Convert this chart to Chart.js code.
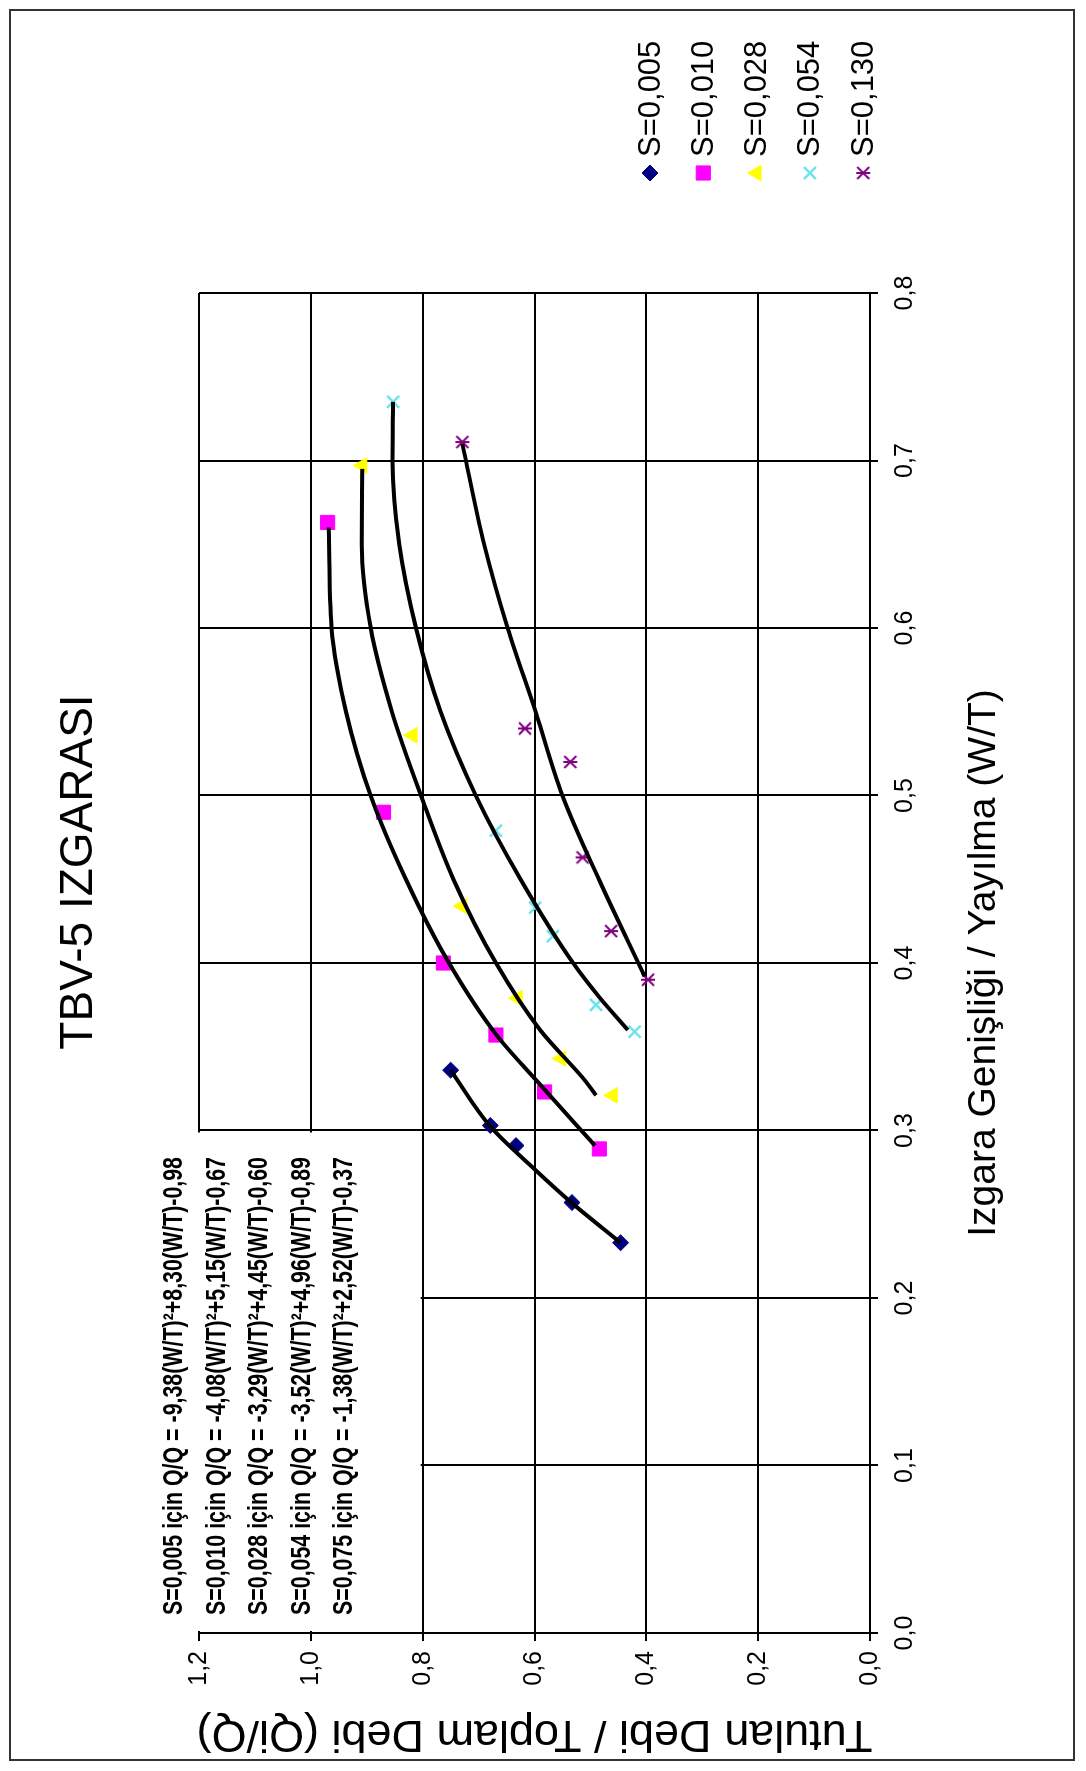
<!DOCTYPE html>
<html lang="tr">
<head>
  <meta charset="UTF-8">
  <title>TBV-5 IZGARASI</title>
  <style>
    html, body {
      margin: 0;
      padding: 0;
      background: #fff;
    }
    body {
      width: 1086px;
      height: 1771px;
      overflow: hidden;
      position: relative;
    }
    /* the chart is laid out landscape and turned a quarter turn to the left */
    .sheet {
      position: absolute;
      left: 0;
      top: 0;
      width: 1771px;
      height: 1086px;
      background: #fff;
      transform-origin: 0 0;
      transform: translateY(1771px) rotate(-90deg);
    }
    .sheet canvas {
      position: absolute;
      left: 0;
      top: 0;
    }
    .frame {
      position: absolute;
      left: 10px;
      top: 9px;
      width: 1752px;
      height: 1066px;
      box-sizing: border-box;
      border: 2px solid #333;
      pointer-events: none;
    }
  </style>
</head>
<body>
  <div class="sheet">
    <canvas id="chart" width="1771" height="1086"></canvas>
    <div class="frame"></div>
  </div>

  <script src="https://cdn.jsdelivr.net/npm/chart.js"></script>
  <script>
    // measured points: [W/T, Qi/Q]
    const s005 = [[0.233, 0.446], [0.257, 0.533], [0.291, 0.633], [0.303, 0.679], [0.336, 0.750]];
    const s010 = [[0.289, 0.484], [0.323, 0.582], [0.357, 0.669], [0.400, 0.763], [0.490, 0.870], [0.663, 0.970]];
    const s028 = [[0.321, 0.460], [0.343, 0.552], [0.379, 0.630], [0.434, 0.729], [0.536, 0.818], [0.697, 0.908]];
    const s054 = [[0.359, 0.421], [0.375, 0.490], [0.416, 0.567], [0.433, 0.599], [0.479, 0.669], [0.735, 0.853]];
    const s130 = [[0.390, 0.397], [0.419, 0.463], [0.463, 0.514], [0.520, 0.536], [0.540, 0.617], [0.711, 0.729]];

    // trend curves: [W/T, Qi/Q]
    const fit005 = [[0.233, 0.446], [0.257, 0.534], [0.276, 0.597], [0.302, 0.678], [0.336, 0.750]];
    const fit010 = [[0.291, 0.492], [0.330, 0.597], [0.357, 0.668], [0.400, 0.753], [0.450, 0.830], [0.500, 0.893],
                    [0.550, 0.937], [0.600, 0.963], [0.660, 0.968]];
    const fit028 = [[0.321, 0.490], [0.330, 0.510], [0.360, 0.590], [0.400, 0.669], [0.450, 0.745], [0.500, 0.803],
                    [0.550, 0.855], [0.600, 0.893], [0.650, 0.909], [0.695, 0.908]];
    const fit054 = [[0.360, 0.433], [0.380, 0.485], [0.400, 0.531], [0.450, 0.625], [0.500, 0.705], [0.550, 0.768],
                    [0.600, 0.812], [0.650, 0.842], [0.700, 0.854], [0.735, 0.853]];
    const fit130 = [[0.392, 0.403], [0.450, 0.485], [0.500, 0.550], [0.550, 0.598], [0.600, 0.648], [0.650, 0.690],
                    [0.710, 0.729]];

    const seriesNames = ['S=0,005', 'S=0,010', 'S=0,028', 'S=0,054', 'S=0,130'];

    const equations = [
      'S=0,005 için Q/Q = -9,38(W/T)²+8,30(W/T)-0,98',
      'S=0,010 için Q/Q = -4,08(W/T)²+5,15(W/T)-0,67',
      'S=0,028 için Q/Q = -3,29(W/T)²+4,45(W/T)-0,60',
      'S=0,054 için Q/Q = -3,52(W/T)²+4,96(W/T)-0,89',
      'S=0,075 için Q/Q = -1,38(W/T)²+2,52(W/T)-0,37'
    ];

    const xTitle = 'Izgara Genişliği / Yayılma (W/T)';
    const yTitle = 'Tutulan Debi / Toplam Debi (Qi/Q)';
    const chartTitle = 'TBV-5 IZGARASI';

    const FONT = "'Liberation Sans', Arial, sans-serif";

    // little asterisk (x with an upright bar) for the last series
    function makeStar(color) {
      const c = document.createElement('canvas');
      c.width = 18;
      c.height = 18;
      const g = c.getContext('2d');
      g.strokeStyle = color;
      g.lineWidth = 2;
      g.beginPath();
      g.moveTo(3, 3); g.lineTo(15, 15);
      g.moveTo(15, 3); g.lineTo(3, 15);
      g.moveTo(9, 2); g.lineTo(9, 16);
      g.stroke();
      return c;
    }

    const markers = [
      { style: 'rectRot', radius: 8, color: '#000080', border: 1 },
      { style: 'rect', radius: 10, color: '#ff00ff', border: 1 },
      { style: 'triangle', radius: 9, color: '#ffff00', border: 1 },
      { style: 'crossRot', radius: 8.5, color: '#6fe3f0', border: 2.5 },
      { style: makeStar('#800080'), radius: 9, color: '#800080', border: 1 }
    ];

    const toXY = arr => arr.map(p => ({ x: p[0], y: p[1] }));
    const comma = v => Number(v).toFixed(1).replace('.', ',');

    const pointSets = [s005, s010, s028, s054, s130].map((d, i) => ({
      type: 'scatter',
      label: seriesNames[i],
      data: toXY(d),
      order: 1,
      showLine: false,
      pointStyle: markers[i].style,
      pointRadius: markers[i].radius,
      pointBackgroundColor: markers[i].color,
      pointBorderColor: markers[i].color,
      pointBorderWidth: markers[i].border
    }));

    const curveSets = [fit005, fit010, fit028, fit054, fit130].map(d => ({
      type: 'line',
      data: toXY(d),
      order: 0,
      borderColor: '#000',
      borderWidth: 4,
      pointRadius: 0,
      fill: false,
      cubicInterpolationMode: 'monotone'
    }));

    // title, legend and the equation panel
    const decor = {
      id: 'decor',
      beforeDatasetsDraw(chart) {
        const { ctx, scales: { x, y } } = chart;
        const left = x.getPixelForValue(0) + 2;
        const right = x.getPixelForValue(0.3) - 2;
        const bottom = y.getPixelForValue(0.8) - 2;
        ctx.save();
        ctx.fillStyle = '#fff';
        ctx.fillRect(left, 150, right - left, bottom - 150);

        ctx.fillStyle = '#000';
        ctx.font = "bold 27px 'Liberation Sans Narrow', 'Liberation Sans', sans-serif";
        ctx.textBaseline = 'middle';
        ctx.textAlign = 'left';
        const sx = 458 / ctx.measureText(equations[0]).width;
        equations.forEach((line, i) => {
          ctx.save();
          ctx.translate(156, 175 + i * 42.5);
          ctx.scale(sx, 1);
          ctx.fillText(line, 0, 0);
          ctx.restore();
        });
        ctx.restore();
      },
      afterDraw(chart) {
        const ctx = chart.ctx;
        ctx.save();
        ctx.fillStyle = '#000';
        ctx.textBaseline = 'middle';
        ctx.textAlign = 'center';
        ctx.font = '46px ' + FONT;
        ctx.fillText(chartTitle, 899, 79);

        ctx.font = '31px ' + FONT;
        ctx.textAlign = 'left';
        seriesNames.forEach((name, i) => {
          const cy = 650 + i * 53.3;
          const m = markers[i];
          ctx.fillStyle = m.color;
          ctx.strokeStyle = m.color;
          ctx.lineWidth = m.border;
          Chart.helpers.drawPoint(ctx, {
            pointStyle: m.style, radius: m.radius, rotation: 0, borderWidth: m.border
          }, 1598, cy);
          ctx.fillStyle = '#000';
          ctx.fillText(name, 1614, cy + 1);
        });
        ctx.restore();
      }
    };

    new Chart(document.getElementById('chart'), {
      type: 'scatter',
      data: { datasets: [...curveSets, ...pointSets] },
      plugins: [decor],
      options: {
        responsive: false,
        animation: false,
        events: [],
        layout: { padding: { left: 0, right: 293, top: 199, bottom: 74 } },
        plugins: {
          legend: { display: false },
          title: { display: false },
          tooltip: { enabled: false }
        },
        scales: {
          x: {
            type: 'linear',
            min: 0,
            max: 0.8,
            ticks: { stepSize: 0.1, callback: comma, color: '#000', padding: 12, font: { size: 25, family: FONT } },
            grid: { color: '#000', lineWidth: 2, tickLength: 8 },
            border: { color: '#000', width: 2 },
            title: {
              display: true, text: xTitle, color: '#000',
              font: { size: 39, family: FONT }, padding: { top: 0, bottom: 4 }
            },
            afterFit(scale) { scale.height = 142; }
          },
          y: {
            type: 'linear',
            min: 0,
            max: 1.2,
            ticks: { stepSize: 0.2, callback: comma, color: '#000', padding: 10, font: { size: 25, family: FONT } },
            grid: { color: '#000', lineWidth: 2, tickLength: 8 },
            border: { color: '#000', width: 2 },
            title: {
              display: true, text: yTitle, color: '#000',
              font: { size: 45, family: FONT }, padding: { top: 11, bottom: 0 }
            },
            afterFit(scale) { scale.width = 138; }
          }
        }
      }
    });
  </script>
</body>
</html>
